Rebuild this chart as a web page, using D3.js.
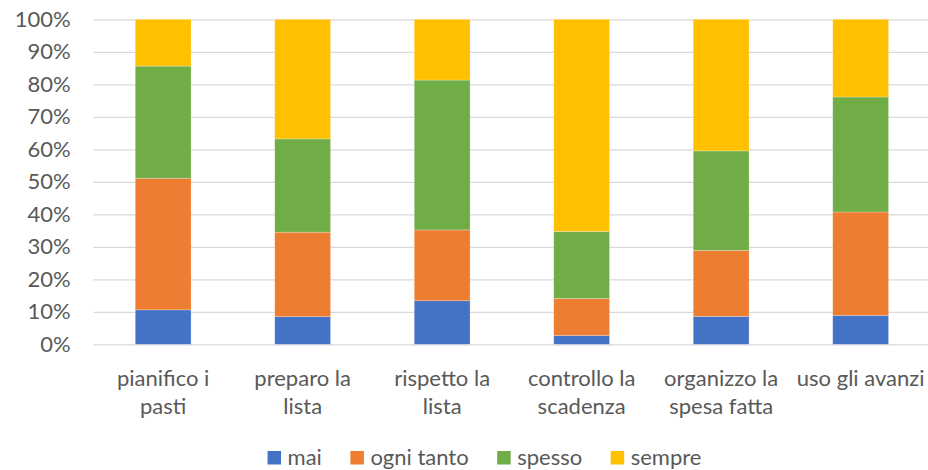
<!DOCTYPE html>
<html lang="it">
<head>
<meta charset="utf-8">
<script src="https://cdn.jsdelivr.net/npm/d3@7"></script>
<style>
  html, body { margin: 0; padding: 0; background: #fff; }
  svg { display: block; }
  text { font-family: Lato, "Liberation Sans", sans-serif; fill: #595959; }
</style>
</head>
<body>
<svg id="chart" width="928" height="470"></svg>
<script>
// Abitudini alimentari: quota di risposte per frequenza (grafico a barre in pila al 100%)
const categories = [
  "pianifico i\npasti",
  "preparo la\nlista",
  "rispetto la\nlista",
  "controllo la\nscadenza",
  "organizzo la\nspesa fatta",
  "uso gli avanzi"
];
const seriesNames = ["mai", "ogni tanto", "spesso", "sempre"];
const mai       = [10.6,  8.5, 13.4,  2.7,  8.6,  8.9];
const ogniTanto = [40.5, 26.0, 21.8, 11.4, 20.3, 31.8];
const spesso    = [34.5, 28.7, 46.1, 20.6, 30.6, 35.4];
const sempre    = [14.4, 36.8, 18.7, 65.3, 40.5, 23.9];
const yTicks = [0, 0.1, 0.2, 0.3, 0.4, 0.5, 0.6, 0.7, 0.8, 0.9, 1];

const colors = ["#4472C4", "#ED7D31", "#70AD47", "#FFC000"];
const fontSize = 22;

const svg = d3.select("#chart");
const plot = { left: 93.4, right: 930.4, top: 19.3, bottom: 344.3 };

const rows = categories.map((c, i) => ({
  cat: c,
  "mai": mai[i],
  "ogni tanto": ogniTanto[i],
  "spesso": spesso[i],
  "sempre": sempre[i]
}));

const stacked = d3.stack()
  .keys(seriesNames)
  .offset(d3.stackOffsetExpand)(rows);

const x = d3.scaleBand()
  .domain(categories)
  .range([plot.left, plot.right])
  .paddingInner(0.6)
  .paddingOuter(0.3);

const y = d3.scaleLinear()
  .domain([0, 1])
  .range([plot.bottom, plot.top]);

const color = d3.scaleOrdinal().domain(seriesNames).range(colors);

// Y axis with horizontal gridlines
const yAxis = svg.append("g")
  .attr("transform", `translate(${plot.left},0)`)
  .call(d3.axisLeft(y)
    .tickValues(yTicks)
    .tickFormat(d3.format(".0%"))
    .tickSize(-(plot.right - plot.left))
    .tickPadding(22.7));
yAxis.select(".domain").remove();
yAxis.selectAll(".tick line")
  .attr("stroke", "#d9d9d9")
  .attr("stroke-width", 1.3);
yAxis.selectAll(".tick text")
  .attr("font-size", fontSize)
  .attr("font-family", null)
  .attr("fill", "#595959");

// Stacked bars
svg.append("g")
  .selectAll("g")
  .data(stacked)
  .join("g")
    .attr("fill", d => color(d.key))
  .selectAll("rect")
  .data(d => d)
  .join("rect")
    .attr("x", d => x(d.data.cat))
    .attr("width", x.bandwidth())
    .attr("y", d => y(d[1]))
    .attr("height", d => y(d[0]) - y(d[1]))
    .attr("stroke", "#ffffff")
    .attr("stroke-opacity", 0.35)
    .attr("stroke-width", 0.7);

// Category labels on the X axis (two lines where needed)
const xAxis = svg.append("g")
  .attr("transform", `translate(0,${plot.bottom})`)
  .call(d3.axisBottom(x).tickSize(0).tickFormat(""));
xAxis.select(".domain").remove();
xAxis.selectAll(".tick text").remove();
xAxis.selectAll(".tick")
  .append("text")
    .attr("text-anchor", "middle")
    .attr("font-size", fontSize)
    .attr("fill", "#595959")
  .selectAll("tspan")
  .data(d => d.split("\n"))
  .join("tspan")
    .attr("x", 0)
    .attr("y", (d, i) => 41.7 + i * 28.3)
    .text(d => d);

// Legend, centred below the chart
const legend = svg.append("g");
const items = legend.selectAll("g")
  .data(seriesNames)
  .join("g");
items.append("rect")
  .attr("width", 13.5)
  .attr("height", 13.5)
  .attr("y", 451)
  .attr("fill", d => color(d));
items.append("text")
  .attr("x", 20)
  .attr("y", 465)
  .attr("font-size", fontSize)
  .text(d => d);

let cursor = 0;
const gap = 28.5;
items.each(function () {
  const g = d3.select(this);
  g.attr("transform", `translate(${cursor},0)`);
  cursor += 20 + g.select("text").node().getComputedTextLength() + gap;
});
const legendWidth = cursor - gap;
legend.attr("transform", `translate(${484.5 - legendWidth / 2},0)`);
</script>
</body>
</html>
